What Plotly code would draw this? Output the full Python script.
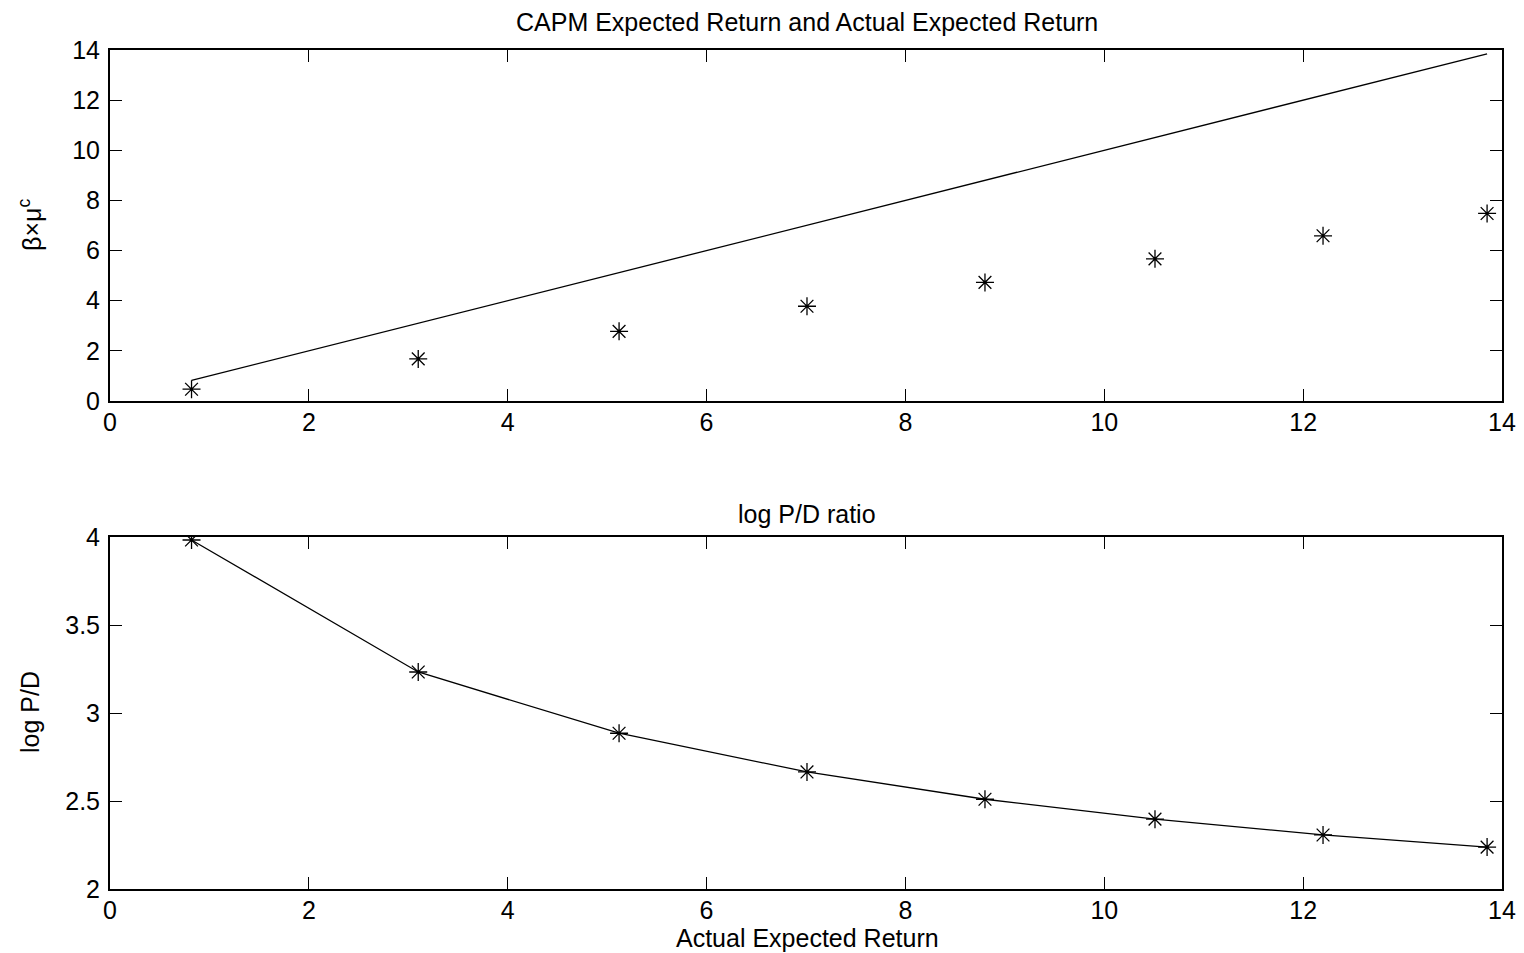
import plotly.graph_objects as go

# Data
actual_return = [0.82, 3.10, 5.12, 7.01, 8.80, 10.51, 12.20, 13.85]
capm_return = [0.47, 1.68, 2.78, 3.78, 4.73, 5.67, 6.59, 7.48]
log_pd = [3.983, 3.233, 2.885, 2.665, 2.510, 2.397, 2.307, 2.238]

x_ticks = [0, 2, 4, 6, 8, 10, 12, 14]
y1_ticks = [0, 2, 4, 6, 8, 10, 12, 14]
y2_ticks = [2, 2.5, 3, 3.5, 4]
y2_labels = ["2", "2.5", "3", "3.5", "4"]

W, H = 1524, 953
OFF = 8  # page body margin offset
FONT = "Liberation Sans, Arial, Helvetica, sans-serif"
FS = 25


def px(x):
    return (x - OFF) / W


def py(y):
    return 1 - (y - OFF) / H


fig = go.Figure()

marker_style = dict(symbol="asterisk-open", size=15, color="black",
                    line=dict(color="black", width=1.3))

# top: 45-degree line and CAPM stars
fig.add_trace(go.Scatter(x=[actual_return[0], actual_return[-1]],
                         y=[actual_return[0], actual_return[-1]],
                         mode="lines", line=dict(color="black", width=1.3),
                         xaxis="x", yaxis="y", showlegend=False))
fig.add_trace(go.Scatter(x=actual_return, y=capm_return, mode="markers",
                         marker=marker_style,
                         xaxis="x", yaxis="y", showlegend=False))
# bottom: log P/D
fig.add_trace(go.Scatter(x=actual_return, y=log_pd, mode="lines+markers",
                         line=dict(color="black", width=1.3),
                         marker=marker_style,
                         xaxis="x2", yaxis="y2", showlegend=False))

xdom = [px(110), px(1502)]
top_dom = [py(401), py(50)]
bot_dom = [py(889), py(537)]

axis_common = dict(showgrid=False, zeroline=False, showline=True,
                   linecolor="black", linewidth=2, mirror="ticks",
                   ticks="inside", ticklen=12, tickwidth=1.2, tickcolor="black",
                   automargin=False,
                   tickfont=dict(family=FONT, size=FS, color="black"))


def ann(text, x, y, angle=0):
    return dict(text=text, x=px(x), y=py(y), xref="paper", yref="paper",
                xanchor="center", yanchor="middle", showarrow=False,
                textangle=angle, font=dict(family=FONT, size=FS, color="black"))


fig.update_layout(
    width=W, height=H,
    margin=dict(l=0, r=0, t=0, b=0, autoexpand=False),
    paper_bgcolor="white", plot_bgcolor="white",
    font=dict(family=FONT, color="black"),
    xaxis=dict(domain=xdom, anchor="y", range=[0, 14], tickvals=x_ticks,
               ticklabelstandoff=-2, **axis_common),
    yaxis=dict(domain=top_dom, anchor="x", range=[0, 14], tickvals=y1_ticks,
               ticklabelstandoff=3, **axis_common),
    xaxis2=dict(domain=xdom, anchor="y2", range=[0, 14], tickvals=x_ticks,
                ticklabelstandoff=-2, **axis_common),
    yaxis2=dict(domain=bot_dom, anchor="x2", range=[2, 4], tickvals=y2_ticks,
                ticktext=y2_labels, ticklabelstandoff=3, **axis_common),
    annotations=[
        ann("CAPM Expected Return and Actual Expected Return", 807, 22),
        ann("log P/D ratio", 807, 514),
        ann("Actual Expected Return", 807, 938),
        ann("β×μ<sup>c</sup>", 30, 225, -90),
        ann("log P/D", 30, 712, -90),
    ],
)

fig.write_html("out.html")
